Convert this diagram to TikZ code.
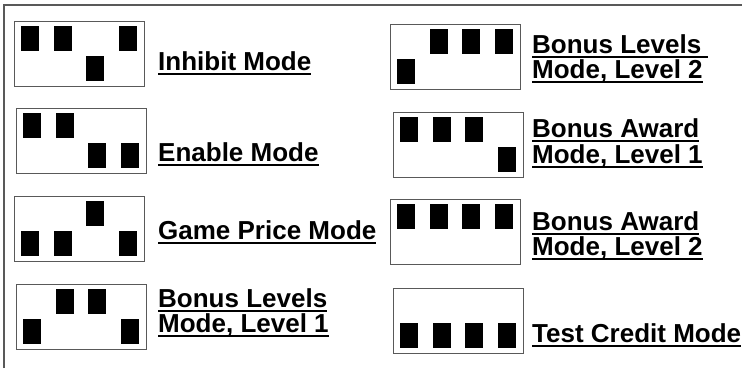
\documentclass[tikz,border=0pt]{standalone}
\usepackage{fontspec}
\setmainfont{Liberation Sans}
\newcommand{\modeul}[1]{\setbox0\hbox{#1}\rlap{\vrule width\wd0 height -3pt depth 5pt}\box0}
\begin{document}
\begin{tikzpicture}[x=1pt, y=-1pt,
    modebox/.style={draw=black!65, line width=1pt, minimum width=130pt, minimum height=65pt, inner sep=0pt, anchor=north west},
    switch/.style={fill=black},
    modelabel/.style={anchor=base west, inner sep=0pt, font=\fontsize{26}{25}\selectfont\bfseries}]
    \useasboundingbox (0,0) rectangle (742,368);
    \draw[black!65, line width=1.2pt] (4,368) -- (4,5) -- (742,5);
    % left column
    \node[modebox] (inhibit) at (14,21) {};
    \foreach \st [count=\i from 0] in {0,0,1,0}
        \fill[switch] (14+7+32.5*\i, 21+5+30*\st) rectangle +(18,25);
    \node[modelabel] (inhibittxt) at (158,70) {\modeul{Inhibit Mode}};
    \node[modebox] (enable) at (16,108) {};
    \foreach \st [count=\i from 0] in {0,0,1,1}
        \fill[switch] (16+7+32.5*\i, 108+5+30*\st) rectangle +(18,25);
    \node[modelabel] (enabletxt) at (158,161) {\modeul{Enable Mode}};
    \node[modebox] (price) at (14,196) {};
    \foreach \st [count=\i from 0] in {1,1,0,1}
        \fill[switch] (14+7+32.5*\i, 196+5+30*\st) rectangle +(18,25);
    \node[modelabel] (pricetxt) at (158,239) {\modeul{Game Price Mode}};
    \node[modebox] (lvlone) at (16,284) {};
    \foreach \st [count=\i from 0] in {1,0,0,1}
        \fill[switch] (16+7+32.5*\i, 284+5+30*\st) rectangle +(18,25);
    \node[modelabel] (lvlonetxt) at (158,307) {\modeul{Bonus Levels}};
    \node[modelabel] (lvlonetxtb) at (158,332) {\modeul{Mode, Level 1}};
    % right column
    \node[modebox] (lvltwo) at (390,24) {};
    \foreach \st [count=\i from 0] in {1,0,0,0}
        \fill[switch] (390+7+32.5*\i, 24+5+30*\st) rectangle +(18,25);
    \node[modelabel] (lvltwotxt) at (532,53) {\modeul{Bonus Levels\ }};
    \node[modelabel] (lvltwotxtb) at (532,78) {\modeul{Mode, Level 2}};
    \node[modebox] (awdone) at (393,112) {};
    \foreach \st [count=\i from 0] in {0,0,0,1}
        \fill[switch] (393+7+32.5*\i, 112+5+30*\st) rectangle +(18,25);
    \node[modelabel] (awdonetxt) at (532,137) {\modeul{Bonus Award}};
    \node[modelabel] (awdonetxtb) at (532,163) {\modeul{Mode, Level 1}};
    \node[modebox] (awdtwo) at (390,199) {};
    \foreach \st [count=\i from 0] in {0,0,0,0}
        \fill[switch] (390+7+32.5*\i, 199+5+30*\st) rectangle +(18,25);
    \node[modelabel] (awdtwotxt) at (532,230) {\modeul{Bonus Award}};
    \node[modelabel] (awdtwotxtb) at (532,255) {\modeul{Mode, Level 2}};
    \node[modebox] (credit) at (393,288) {};
    \foreach \st [count=\i from 0] in {1,1,1,1}
        \fill[switch] (393+7+32.5*\i, 288+5+30*\st) rectangle +(18,25);
    \node[modelabel] (credittxt) at (532,342) {\modeul{Test Credit Mode}};
\end{tikzpicture}
\end{document}
